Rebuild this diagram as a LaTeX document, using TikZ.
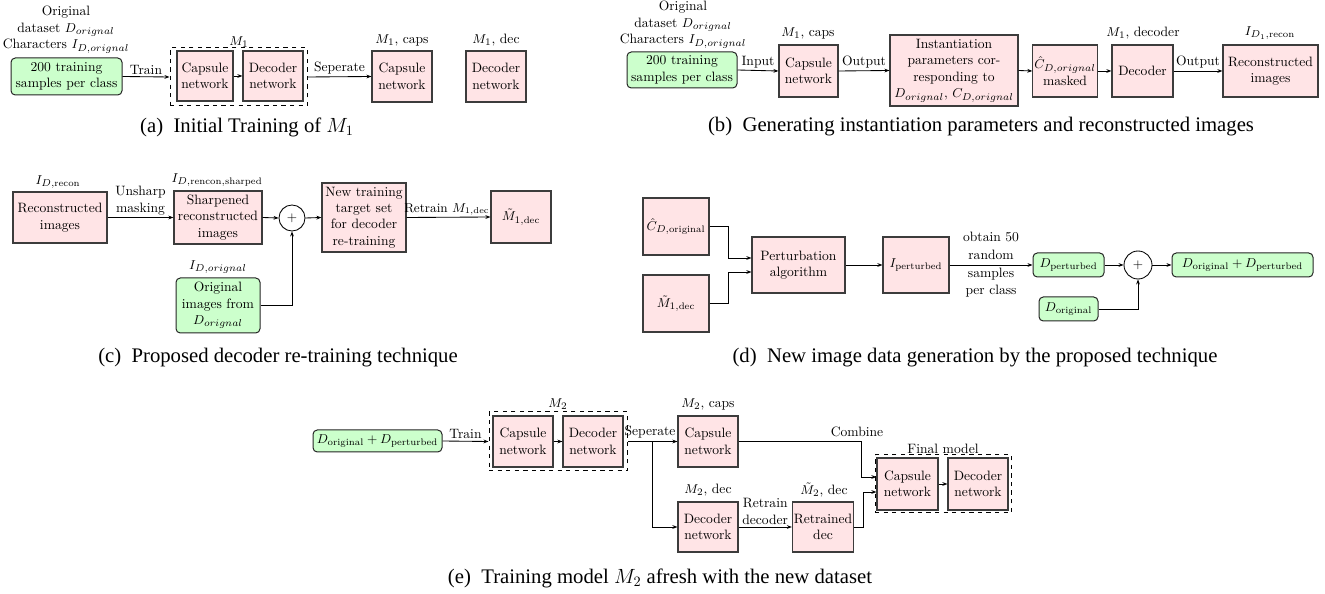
\documentclass[tikz,border=0pt]{standalone}
\usepackage{fontspec}
\newfontfamily\capfont{Liberation Serif}
\usetikzlibrary{arrows.meta}
\definecolor{pinkf}{RGB}{255,228,230}
\definecolor{greenf}{RGB}{204,255,204}
\definecolor{edgec}{RGB}{60,60,60}
\begin{document}
\begin{tikzpicture}[x=0.7pt,y=-0.7pt,
  every node/.style={font=\fontsize{9.5}{11.5}\selectfont},
  sz/.style 2 args={minimum width=#1*0.7pt, minimum height=#2*0.7pt},
  pbox/.style={draw=edgec, line width=0.8pt, fill=pinkf, align=center, inner sep=1pt},
  gbox/.style={draw=black!85, line width=0.7pt, fill=greenf, rounded corners=3pt, align=center, inner sep=1pt},
  dbox/.style={draw=black, dashed, line width=0.7pt, inner sep=0pt},
  arr/.style={-{Stealth[length=3.5pt,width=2.6pt]}, line width=0.6pt},
  sumc/.style={circle, draw, line width=0.6pt, minimum size=26*0.7pt, inner sep=0pt},
  captxt/.style={font=\capfont\fontsize{14.5}{16}\selectfont},
  lbl/.style={align=center, inner sep=1pt}
]
\path[use as bounding box] (0,0) rectangle (1325,594);

% ---------------- (a)
\node[gbox, sz={111}{37}] (ag) at (66.5,76.5) {200 training\\samples per class};
\node[lbl, anchor=south] (agt) at (66,55) {Original\\dataset $D_{orignal}$\\Characters $I_{D,orignal}$};
\node[dbox, sz={137}{58}] (ad) at (238.5,77) {};
\node[pbox, sz={56}{50}] (ac) at (205,76) {Capsule\\network};
\node[pbox, sz={60}{50}] (adc) at (273,76) {Decoder\\network};
\node[lbl] (adl) at (239,42) {$M_1$};
\node[pbox, sz={60}{51}] (asc) at (402,76.5) {Capsule\\network};
\node[pbox, sz={60}{51}] (asd) at (496,76.5) {Decoder\\network};
\node[lbl] (ascl) at (402,40) {$M_1$, caps};
\node[lbl] (asdl) at (496,40) {$M_1$, dec};
\draw[arr] (ag.east) -- node[above, inner sep=1.5pt]{Train} (ad.west);
\draw[arr] (ac) -- (adc);
\draw[arr] (ad.east) -- node[above, inner sep=1.5pt]{Seperate} (asc.west);
\node[captxt] (capa) at (247,127) {(a)\enspace Initial Training of $M_1$};

% ---------------- (b)
\node[gbox, sz={110}{36}] (bg) at (682,70) {200 training\\samples per class};
\node[lbl, anchor=south] (bgt) at (683,50) {Original\\dataset $D_{orignal}$\\Characters $I_{D,orignal}$};
\node[pbox, sz={59}{52}] (bc) at (808.5,71) {Capsule\\network};
\node[lbl] (bcl) at (808,33) {$M_1$, caps};
\node[pbox, sz={128}{71}] (bi) at (954,70.5) {Instantiation\\parameters cor-\\responding to\\$D_{orignal}$, $C_{D,orignal}$};
\node[pbox, sz={60}{52}] (bh) at (1065,71) {$\hat{C}_{D,orignal}$\\masked};
\node[pbox, sz={61}{52}] (bd) at (1142.5,71) {Decoder};
\node[lbl] (bdl) at (1143,33) {$M_1$, decoder};
\node[pbox, sz={95}{52}] (br) at (1270.5,71) {Reconstructed\\images};
\node[lbl] (brl) at (1270,33) {$I_{D_1,\mathrm{recon}}$};
\draw[arr] (bg.east) -- node[above, inner sep=1.5pt]{Input} (bc.west);
\draw[arr] (bc.east) -- node[above, inner sep=1.5pt]{Output} (bi.west);
\draw[arr] (bi.east) -- (bh.west);
\draw[arr] (bh.east) -- (bd.west);
\draw[arr] (bd.east) -- node[above, inner sep=1.5pt]{Output} (br.west);
\node[captxt] (capb) at (981,127) {(b)\enspace Generating instantiation parameters and reconstructed images};

% ---------------- (c)
\node[pbox, sz={94}{51}] (cr) at (60,217.5) {Reconstructed\\images};
\node[lbl] (crl) at (58,182) {$I_{D,\mathrm{recon}}$};
\node[pbox, sz={88}{53}] (cs) at (218,217.5) {Sharpened\\reconstructed\\images};
\node[lbl] (csl) at (217,180) {$I_{D,\mathrm{rencon,sharped}}$};
\node[sumc] (csum) at (292,218) {$+$};
\node[pbox, sz={84}{69}] (cn) at (364,217.5) {New training\\target set\\for decoder\\re-training};
\node[pbox, sz={60}{52}] (cm) at (521,217) {$\tilde{M}_{1,\mathrm{dec}}$};
\node[gbox, sz={84}{55}] (co) at (218,305.5) {Original\\images from\\$D_{orignal}$};
\node[lbl] (col) at (218,267) {$I_{D,orignal}$};
\draw[arr] (cr.east) -- node[above, align=center, inner sep=1.5pt]{Unsharp\\masking} (cs.west);
\draw[arr] (cs.east) -- (csum.west);
\draw[arr] (csum.east) -- (cn.west);
\draw[arr] (cn.east) -- node[above, inner sep=1pt, xshift=-1.2pt, font=\fontsize{9}{11}\selectfont]{Retrain $M_{1,\mathrm{dec}}$} (cm.west);
\draw[arr] (co.east) -| (csum.south);
\node[captxt] (capc) at (278,358) {(c)\enspace Proposed decoder re-training technique};

% ---------------- (d)
\node[pbox, sz={66}{57}] (dch) at (676,226.5) {$\hat{C}_{D,\mathrm{original}}$};
\node[pbox, sz={66}{57}] (dmt) at (676,303.5) {$\tilde{M}_{1,\mathrm{dec}}$};
\node[pbox, sz={93}{56}] (dpa) at (798.5,265) {Perturbation\\algorithm};
\node[pbox, sz={66}{56}] (dip) at (916,265) {$I_{\mathrm{perturbed}}$};
\node[gbox, sz={71}{24}] (ddp) at (1068.5,265) {$D_{\mathrm{perturbed}}$};
\node[sumc, minimum size=28*0.7pt] (dsum) at (1138,265) {$+$};
\node[gbox, sz={141}{24}] (dfin) at (1242.5,265) {$D_{\mathrm{original}}+D_{\mathrm{perturbed}}$};
\node[gbox, sz={59}{24}] (ddo) at (1068.5,309) {$D_{\mathrm{original}}$};
\coordinate (dj) at (728,265);
\draw[arr] (dch.east) -- (dj |- dch.east) |- ([yshift=4.9pt]dpa.west);
\draw[arr] (dmt.east) -- (dj |- dmt.east) |- ([yshift=-4.9pt]dpa.west);
\draw[arr] (dpa) -- (dip);
\draw[arr] (dip.east) -- node[align=center, inner sep=0pt, font=\fontsize{9.5}{12.4}\selectfont]{obtain 50\\random\\samples\\per class} (ddp.west);
\draw[arr] (ddp) -- (dsum);
\draw[arr] (dsum) -- (dfin);
\draw[arr] (ddo.east) -| (dsum.south);
\node[captxt] (capd) at (975,358) {(d)\enspace New image data generation by the proposed technique};

% ---------------- (e)
\node[gbox, sz={129}{22}] (eg) at (377.5,441) {$D_{\mathrm{original}}+D_{\mathrm{perturbed}}$};
\node[dbox, sz={138}{59}] (ed) at (558,441.5) {};
\node[lbl] (edl) at (558,404) {$M_2$};
\node[pbox, sz={60}{51}] (ec) at (523,441.5) {Capsule\\network};
\node[pbox, sz={60}{51}] (edc) at (593,441.5) {Decoder\\network};
\node[pbox, sz={60}{51}] (esc) at (708,441.5) {Capsule\\network};
\node[lbl] (escl) at (708,404) {$M_2$, caps};
\node[pbox, sz={60}{50}] (esd) at (708,527) {Decoder\\network};
\node[lbl] (esdl) at (708,490) {$M_2$, dec};
\node[pbox, sz={60}{50}] (erd) at (823,527) {Retrained\\dec};
\node[lbl] (erdl) at (824,490) {$\tilde{M}_2$, dec};
\node[dbox, sz={136}{58}] (ef) at (943,484) {};
\node[lbl] (efl) at (943,449) {Final model};
\node[pbox, sz={61}{52}] (efc) at (907.5,484) {Capsule\\network};
\node[pbox, sz={60}{52}] (efd) at (978,484) {Decoder\\network};
\coordinate (eb) at (652,441.5);
\coordinate (ex1) at (863,500);
\coordinate (ex2) at (861,460);
\draw[arr] (eg.east) -- node[above, inner sep=1.5pt]{Train} (ed.west);
\draw[arr] (ec) -- (edc);
\draw[arr] (ed.east) -- (esc.west);
\node[lbl] (esep) at (650,432) {Seperate};
\draw[arr] (eb) |- (esd.west);
\draw[arr] (esd) -- node[above, align=center, inner sep=1.5pt]{Retrain\\decoder} (erd);
\draw[arr] (erd.east) -- (ex1 |- erd.east) |- ([yshift=-5.6pt]efc.west);
\draw[arr] (esc.east) -- (ex2 |- esc.east) |- ([yshift=4.9pt]efc.west);
\node[lbl] (ecomb) at (857,432) {Combine};
\draw[arr] (efc) -- (efd);
\node[captxt] (cape) at (660,578) {(e)\enspace Training model $M_2$ afresh with the new dataset};
\end{tikzpicture}
\end{document}
